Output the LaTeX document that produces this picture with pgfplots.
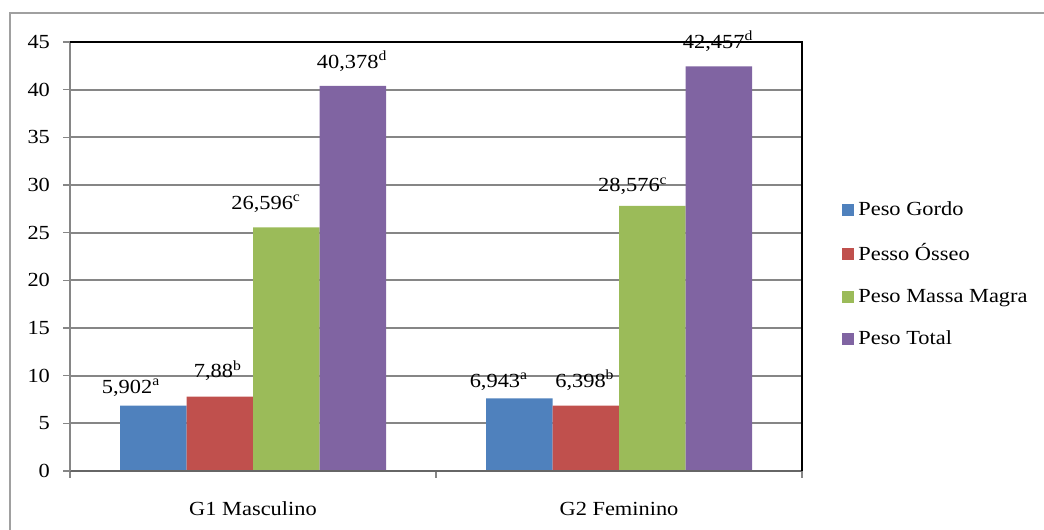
\documentclass[border=0pt]{standalone}
\usepackage{fontspec}
\setmainfont{Liberation Serif}[FakeStretch=1.12]
\usepackage{pgfplots}
\pgfplotsset{compat=1.18}
\definecolor{cBlue}{HTML}{4F81BD}
\definecolor{cRed}{HTML}{C0504D}
\definecolor{cGreen}{HTML}{9BBB59}
\definecolor{cPurple}{HTML}{8064A2}
\definecolor{gridgray}{HTML}{868686}
\definecolor{framegray}{HTML}{A0A0A0}
\pgfplotsset{sqlegend/.style={legend image code/.code={\fill[##1,draw=none] (0pt,-3pt) rectangle (6pt,3pt);}}}
\begin{document}
\begin{tikzpicture}[x=1pt,y=1pt]
\useasboundingbox (0,0) rectangle (522,265);
\draw[framegray, line width=0.7pt] (5,0) -- (5,258.5) -- (522,258.5);
\begin{axis}[
  at={(35pt,29.5pt)}, anchor=south west,
  scale only axis, width=366pt, height=214.5pt,
  clip=false,
  font=\fontsize{10}{12}\selectfont,
  /pgf/number format/assume math mode=true,
  ybar=0pt, bar width=33.25pt,
  xmin=-0.5, xmax=1.5, ymin=0, ymax=45,
  xtick={-0.5,0.5,1.5}, xticklabels={G1 Masculino, G2 Feminino},
  x tick label as interval,
  ytick={0,5,...,45},
  xtick pos=bottom, ytick pos=left,
  tick align=outside,
  major tick length=3.5pt,
  tick style={gridgray, line width=0.8pt},
  ymajorgrids, major grid style={color=gridgray, line width=0.9pt},
  axis line style={draw=none},
  yticklabel style={xshift=-3pt},
  xticklabel style={yshift=-8.5pt},
  legend style={at={(rel axis cs:1.0546,0.639)}, anchor=north west, draw=none, fill=none,
    row sep=8.7pt, inner sep=0pt, font=\fontsize{10}{12}\selectfont},
  legend cell align=left,
]
\addplot[fill=cBlue, draw=none, sqlegend] coordinates {(0,6.85) (1,7.63)};
\addplot[fill=cRed, draw=none, sqlegend] coordinates {(0,7.80) (1,6.85)};
\addplot[fill=cGreen, draw=none, sqlegend] coordinates {(0,25.55) (1,27.80)};
\addplot[fill=cPurple, draw=none, sqlegend] coordinates {(0,40.40) (1,42.45)};
\legend{Peso Gordo, Pesso Ósseo, Peso Massa Magra, Peso Total}
\draw[gray!80!black, line width=1pt] (rel axis cs:0,0) -- (rel axis cs:1,0);
\draw[gridgray, line width=1pt] (rel axis cs:0,0) -- (rel axis cs:0,1);
\draw[black, line width=1.3pt] (rel axis cs:0,1) -- (rel axis cs:1,1) -- (rel axis cs:1,0);
\node[anchor=base] at (axis cs:-0.333,8.18) {5,902\textsuperscript{a}};
\node[anchor=base] at (axis cs:-0.096,9.76) {7,88\textsuperscript{b}};
\node[anchor=base] at (axis cs:0.036,27.48) {26,596\textsuperscript{c}};
\node[anchor=base] at (axis cs:0.271,42.27) {40,378\textsuperscript{d}};
\node[anchor=base] at (axis cs:0.672,8.81) {6,943\textsuperscript{a}};
\node[anchor=base] at (axis cs:0.907,8.81) {6,398\textsuperscript{b}};
\node[anchor=base] at (axis cs:1.038,29.27) {28,576\textsuperscript{c}};
\node[anchor=base] at (axis cs:1.271,44.37) {42,457\textsuperscript{d}};
\end{axis}
\end{tikzpicture}
\end{document}
